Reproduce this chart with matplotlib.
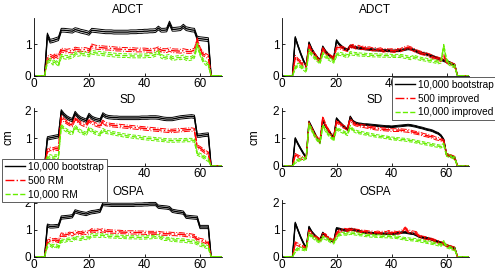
import numpy as np
import matplotlib
matplotlib.use('Agg')
import matplotlib.pyplot as plt
from matplotlib.lines import Line2D

plt.rcParams['font.family'] = ['Liberation Sans', 'DejaVu Sans']

# time steps 1..68, targets present for t = 5..63 (zero elsewhere)
t = np.arange(1, 69)

# ---- left column (RM) values for t = 5..63 ----
adct_boot = [1.30, 1.10, 1.12, 1.15, 1.18, 1.45, 1.45, 1.44, 1.43, 1.42,
             1.47, 1.45, 1.42, 1.40, 1.38, 1.35, 1.45, 1.44, 1.43, 1.42,
             1.41, 1.40, 1.40, 1.40, 1.39, 1.39, 1.39, 1.39, 1.39, 1.39,
             1.40, 1.40, 1.40, 1.41, 1.41, 1.42, 1.42, 1.43, 1.43, 1.44,
             1.52, 1.45, 1.45, 1.46, 1.68, 1.48, 1.48, 1.49, 1.50, 1.58,
             1.50, 1.48, 1.46, 1.45, 1.20, 1.18, 1.17, 1.16, 1.15]
adct_rm500 = [0.55, 0.62, 0.58, 0.65, 0.60, 0.82, 0.80, 0.78, 0.80, 0.78,
              0.85, 0.83, 0.82, 0.84, 0.83, 0.80, 0.95, 0.92, 0.90, 0.90,
              0.89, 0.88, 0.88, 0.87, 0.86, 0.85, 0.85, 0.84, 0.84, 0.83,
              0.83, 0.83, 0.82, 0.82, 0.82, 0.82, 0.81, 0.81, 0.81, 0.82,
              0.86, 0.82, 0.80, 0.80, 0.84, 0.80, 0.79, 0.79, 0.78, 0.80,
              0.78, 0.77, 0.78, 0.82, 1.15, 0.85, 0.70, 0.65, 0.60]
adct_rm10k = [0.45, 0.50, 0.40, 0.45, 0.35, 0.62, 0.60, 0.58, 0.60, 0.62,
              0.70, 0.68, 0.70, 0.70, 0.69, 0.66, 0.75, 0.73, 0.72, 0.71,
              0.70, 0.69, 0.68, 0.67, 0.66, 0.65, 0.65, 0.64, 0.64, 0.64,
              0.63, 0.63, 0.63, 0.63, 0.63, 0.63, 0.64, 0.64, 0.65, 0.68,
              0.76, 0.62, 0.58, 0.60, 0.62, 0.55, 0.56, 0.58, 0.57, 0.60,
              0.55, 0.54, 0.56, 0.62, 0.98, 0.70, 0.50, 0.40, 0.35]

sd_boot = [1.00, 1.02, 1.04, 1.06, 1.08, 1.98, 1.85, 1.76, 1.70, 1.66,
           1.92, 1.80, 1.72, 1.68, 1.64, 1.85, 1.75, 1.70, 1.67, 1.65,
           1.87, 1.80, 1.77, 1.76, 1.75, 1.75, 1.74, 1.74, 1.74, 1.74,
           1.74, 1.74, 1.74, 1.74, 1.75, 1.75, 1.75, 1.76, 1.76, 1.76,
           1.75, 1.73, 1.71, 1.70, 1.70, 1.70, 1.72, 1.74, 1.76, 1.77,
           1.78, 1.79, 1.80, 1.78, 1.10, 1.10, 1.12, 1.13, 1.14]
sd_rm500 = [0.55, 0.62, 0.60, 0.63, 0.62, 1.78, 1.65, 1.58, 1.52, 1.48,
            1.72, 1.62, 1.55, 1.50, 1.46, 1.65, 1.58, 1.52, 1.48, 1.46,
            1.60, 1.52, 1.50, 1.48, 1.47, 1.46, 1.45, 1.44, 1.43, 1.42,
            1.41, 1.40, 1.39, 1.38, 1.37, 1.36, 1.35, 1.34, 1.33, 1.32,
            1.31, 1.30, 1.29, 1.28, 1.27, 1.27, 1.28, 1.29, 1.30, 1.30,
            1.31, 1.32, 1.32, 1.30, 0.70, 0.65, 0.58, 0.50, 0.45]
sd_rm10k = [0.30, 0.35, 0.32, 0.35, 0.33, 1.45, 1.35, 1.28, 1.22, 1.18,
            1.42, 1.32, 1.25, 1.20, 1.16, 1.35, 1.28, 1.22, 1.18, 1.15,
            1.30, 1.24, 1.22, 1.20, 1.18, 1.16, 1.14, 1.12, 1.10, 1.09,
            1.08, 1.06, 1.05, 1.04, 1.02, 1.01, 1.00, 0.99, 0.98, 0.97,
            0.96, 0.95, 0.94, 0.93, 0.92, 0.92, 0.92, 0.93, 0.93, 0.93,
            0.94, 0.94, 0.94, 0.92, 0.45, 0.40, 0.35, 0.28, 0.22]

ospa_boot = [1.15, 1.12, 1.12, 1.13, 1.14, 1.45, 1.46, 1.47, 1.48, 1.50,
             1.68, 1.65, 1.62, 1.60, 1.58, 1.62, 1.65, 1.66, 1.68, 1.70,
             1.95, 1.94, 1.93, 1.92, 1.92, 1.92, 1.92, 1.92, 1.92, 1.92,
             1.92, 1.92, 1.93, 1.93, 1.93, 1.94, 1.94, 1.95, 1.95, 1.95,
             1.85, 1.84, 1.83, 1.82, 1.80, 1.70, 1.68, 1.66, 1.65, 1.63,
             1.48, 1.47, 1.46, 1.45, 1.44, 1.10, 1.10, 1.10, 1.10]
ospa_rm500 = [0.55, 0.65, 0.60, 0.62, 0.58, 0.82, 0.80, 0.82, 0.85, 0.83,
              0.90, 0.88, 0.86, 0.90, 0.88, 0.90, 0.98, 0.96, 0.97, 0.95,
              0.98, 0.95, 0.94, 0.93, 0.93, 0.92, 0.92, 0.91, 0.91, 0.90,
              0.90, 0.90, 0.90, 0.89, 0.89, 0.89, 0.88, 0.88, 0.88, 0.88,
              0.88, 0.86, 0.85, 0.85, 0.85, 0.84, 0.84, 0.83, 0.83, 0.82,
              0.80, 0.80, 0.78, 0.76, 0.65, 0.62, 0.60, 0.55, 0.50]
ospa_rm10k = [0.40, 0.45, 0.38, 0.42, 0.35, 0.60, 0.58, 0.62, 0.64, 0.62,
              0.70, 0.68, 0.66, 0.70, 0.69, 0.70, 0.80, 0.78, 0.79, 0.77,
              0.80, 0.77, 0.76, 0.75, 0.75, 0.74, 0.74, 0.73, 0.73, 0.72,
              0.72, 0.72, 0.72, 0.71, 0.71, 0.71, 0.72, 0.72, 0.73, 0.74,
              0.76, 0.70, 0.66, 0.66, 0.65, 0.62, 0.62, 0.61, 0.60, 0.60,
              0.58, 0.57, 0.56, 0.55, 0.50, 0.45, 0.42, 0.38, 0.35]

# ---- right column (improved) values for t = 5..63 ----
adct_boot_r = [1.22, 0.95, 0.70, 0.48, 0.30, 1.05, 0.85, 0.70, 0.58, 0.48,
               0.92, 0.78, 0.68, 0.60, 0.56, 1.12, 1.00, 0.92, 0.86, 0.82,
               0.95, 0.92, 0.90, 0.88, 0.87, 0.86, 0.85, 0.84, 0.83, 0.82,
               0.82, 0.81, 0.80, 0.80, 0.80, 0.79, 0.79, 0.80, 0.80, 0.82,
               0.84, 0.86, 0.85, 0.82, 0.78, 0.74, 0.72, 0.70, 0.68, 0.65,
               0.62, 0.58, 0.55, 0.52, 0.48, 0.45, 0.42, 0.38, 0.34]
adct_imp500 = [0.60, 0.50, 0.42, 0.35, 0.30, 0.95, 0.80, 0.68, 0.56, 0.47,
               0.85, 0.75, 0.66, 0.60, 0.55, 0.90, 0.90, 0.88, 0.85, 0.82,
               0.92, 0.95, 0.90, 0.92, 0.88, 0.90, 0.86, 0.87, 0.84, 0.85,
               0.82, 0.84, 0.80, 0.82, 0.80, 0.81, 0.79, 0.82, 0.80, 0.85,
               0.88, 0.90, 0.87, 0.83, 0.78, 0.75, 0.72, 0.70, 0.67, 0.64,
               0.60, 0.56, 0.54, 0.50, 0.62, 0.45, 0.40, 0.36, 0.32]
adct_imp10k = [0.25, 0.35, 0.30, 0.22, 0.15, 0.80, 0.68, 0.58, 0.50, 0.42,
               0.70, 0.62, 0.55, 0.50, 0.45, 0.65, 0.70, 0.68, 0.65, 0.62,
               0.72, 0.70, 0.69, 0.68, 0.67, 0.67, 0.66, 0.66, 0.65, 0.65,
               0.65, 0.64, 0.64, 0.64, 0.64, 0.63, 0.63, 0.63, 0.63, 0.62,
               0.60, 0.58, 0.56, 0.60, 0.58, 0.55, 0.53, 0.52, 0.50, 0.48,
               0.47, 0.45, 0.43, 0.45, 0.95, 0.50, 0.38, 0.33, 0.30]

sd_boot_r = [1.00, 0.80, 0.62, 0.45, 0.30, 1.60, 1.40, 1.20, 1.00, 0.85,
             1.65, 1.45, 1.30, 1.15, 1.02, 1.72, 1.60, 1.50, 1.40, 1.32,
             1.78, 1.62, 1.56, 1.53, 1.52, 1.50, 1.50, 1.49, 1.48, 1.47,
             1.46, 1.45, 1.44, 1.43, 1.43, 1.42, 1.43, 1.44, 1.45, 1.46,
             1.47, 1.48, 1.47, 1.45, 1.43, 1.40, 1.38, 1.35, 1.32, 1.30,
             1.27, 1.22, 1.18, 1.10, 0.95, 0.42, 0.38, 0.35, 0.30]
sd_imp500 = [0.40, 0.35, 0.30, 0.28, 0.30, 1.55, 1.35, 1.15, 1.00, 0.90,
             1.75, 1.50, 1.30, 1.15, 1.05, 1.60, 1.55, 1.45, 1.40, 1.35,
             1.70, 1.55, 1.50, 1.48, 1.45, 1.44, 1.42, 1.40, 1.38, 1.36,
             1.35, 1.34, 1.33, 1.32, 1.31, 1.30, 1.30, 1.30, 1.30, 1.29,
             1.28, 1.27, 1.25, 1.22, 1.20, 1.18, 1.15, 1.12, 1.10, 1.07,
             1.05, 1.00, 0.98, 0.95, 0.90, 0.42, 0.38, 0.34, 0.30]
sd_imp10k = [0.15, 0.20, 0.25, 0.25, 0.30, 1.50, 1.30, 1.10, 0.95, 0.85,
             1.45, 1.30, 1.15, 1.05, 0.95, 1.35, 1.30, 1.25, 1.20, 1.15,
             1.42, 1.30, 1.25, 1.22, 1.20, 1.18, 1.16, 1.14, 1.12, 1.10,
             1.08, 1.07, 1.05, 1.04, 1.02, 1.00, 0.99, 0.98, 0.97, 0.96,
             0.95, 0.93, 0.92, 0.90, 0.88, 0.86, 0.84, 0.82, 0.80, 0.78,
             0.76, 0.74, 0.72, 0.70, 0.78, 0.40, 0.36, 0.33, 0.28]

ospa_boot_r = [1.25, 0.98, 0.72, 0.50, 0.32, 1.10, 0.92, 0.80, 0.70, 0.62,
               0.88, 0.78, 0.68, 0.60, 0.56, 1.05, 1.03, 1.00, 0.98, 0.97,
               1.02, 1.00, 0.98, 0.95, 0.93, 0.90, 0.89, 0.88, 0.87, 0.86,
               0.86, 0.86, 0.85, 0.85, 0.85, 0.85, 0.86, 0.87, 0.88, 0.90,
               0.90, 0.88, 0.86, 0.85, 0.80, 0.75, 0.72, 0.70, 0.68, 0.66,
               0.62, 0.58, 0.55, 0.52, 0.48, 0.42, 0.38, 0.35, 0.32]
ospa_imp500 = [0.50, 0.45, 0.40, 0.35, 0.30, 0.95, 0.85, 0.75, 0.68, 0.62,
               0.82, 0.80, 0.70, 0.62, 0.58, 0.85, 0.95, 0.98, 1.00, 0.98,
               1.02, 1.00, 0.97, 0.96, 0.94, 0.93, 0.92, 0.90, 0.90, 0.88,
               0.90, 0.88, 0.90, 0.88, 0.92, 0.88, 0.90, 0.88, 0.90, 0.95,
               1.05, 0.95, 0.92, 0.90, 0.88, 0.78, 0.72, 0.70, 0.68, 0.65,
               0.62, 0.58, 0.55, 0.50, 0.48, 0.42, 0.38, 0.34, 0.30]
ospa_imp10k = [0.20, 0.30, 0.30, 0.28, 0.25, 0.85, 0.75, 0.68, 0.60, 0.55,
               0.72, 0.68, 0.62, 0.56, 0.52, 0.70, 0.82, 0.85, 0.85, 0.84,
               0.88, 0.86, 0.85, 0.83, 0.82, 0.80, 0.79, 0.78, 0.77, 0.77,
               0.76, 0.76, 0.75, 0.75, 0.75, 0.74, 0.73, 0.72, 0.70, 0.68,
               0.66, 0.65, 0.64, 0.63, 0.62, 0.60, 0.58, 0.56, 0.54, 0.52,
               0.50, 0.48, 0.45, 0.43, 0.55, 0.38, 0.34, 0.30, 0.27]

# half spread of the three-line bands: bootstrap, 500, 10,000
spread_left = [0.06, 0.06, 0.06]
spread_right = [0.03, 0.05, 0.05]

titles = ['ADCT', 'SD', 'OSPA']
labels_left = ['10,000 bootstrap', '500 RM', '10,000 RM']
labels_right = ['10,000 bootstrap', '500 improved', '10,000 improved']

left_data = [[adct_boot, adct_rm500, adct_rm10k],
             [sd_boot, sd_rm500, sd_rm10k],
             [ospa_boot, ospa_rm500, ospa_rm10k]]
right_data = [[adct_boot_r, adct_imp500, adct_imp10k],
              [sd_boot_r, sd_imp500, sd_imp10k],
              [ospa_boot_r, ospa_imp500, ospa_imp10k]]

GREEN = '#66ee00'
styles = [dict(color='k', ls='-'),
          dict(color='#ff0000', ls='-.'),
          dict(color=GREEN, ls='--')]


def pad(v):
    return np.concatenate([np.zeros(4), np.asarray(v), np.zeros(5)])


W, H = 495, 271
fig = plt.figure(figsize=(W / 100, H / 100), dpi=100)

col_x = [(33.5, 188.7), (281.5, 187.0)]
row_y = [(18, 75.7, 1.84, [0, 1]), (108, 166, 2.1, [0, 1, 2]), (200, 256.7, 2.1, [0, 1, 2])]

for c, (data, spread) in enumerate([(left_data, spread_left), (right_data, spread_right)]):
    x0, w = col_x[c]
    for r in range(3):
        top, bot, ymax, yt = row_y[r]
        ax = fig.add_axes([x0 / W, 1 - bot / H, w / W, (bot - top) / H])
        for k in range(3):
            y = pad(data[r][k])
            s = spread[k]
            lo = np.where(y > 0, y - s, 0)
            hi = np.where(y > 0, y + s, 0)
            ax.plot(t, hi, lw=0.7, **styles[k])
            ax.plot(t, lo, lw=0.7, **styles[k])
            ax.plot(t, y, lw=1.0, **styles[k])
        ax.set_xlim(0, 68)
        ax.set_ylim(0, ymax)
        ax.set_xticks([0, 20, 40, 60])
        ax.set_yticks(yt)
        ax.spines['top'].set_visible(False)
        ax.spines['right'].set_visible(False)
        for sp in ax.spines.values():
            sp.set_linewidth(0.6)
        ax.tick_params(direction='in', length=2.5, width=0.6, labelsize=8.5, pad=1.5)
        ax.set_title(titles[r], fontsize=8.5, pad=3.5)
        if r == 1:
            ax.set_ylabel('cm', fontsize=8.5)
            ax.yaxis.set_label_coords(-0.1 if c == 0 else -0.11, 0.5)


def handles():
    return [Line2D([], [], lw=1.0, **s) for s in styles]


leg_kw = dict(loc='upper left', fontsize=7.3, frameon=True, fancybox=False,
              edgecolor='#444444', framealpha=1, handlelength=2.0,
              handletextpad=0.3, borderpad=0.3, labelspacing=0.35,
              borderaxespad=0)
lg1 = fig.legend(handles(), labels_left, bbox_to_anchor=(2 / W, 1 - 159 / H), **leg_kw)
lg2 = fig.legend(handles(), labels_right, bbox_to_anchor=(392 / W, 1 - 77 / H), **leg_kw)
for lg in (lg1, lg2):
    lg.get_frame().set_linewidth(0.6)

fig.savefig('out.png', dpi=100)
